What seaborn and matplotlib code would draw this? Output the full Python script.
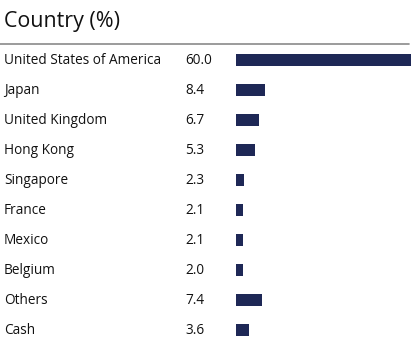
import matplotlib
matplotlib.use("Agg")
import matplotlib.pyplot as plt
import matplotlib.transforms as mtransforms
import seaborn as sns
import pandas as pd

countries = ["United States of America", "Japan", "United Kingdom", "Hong Kong",
             "Singapore", "France", "Mexico", "Belgium", "Others", "Cash"]
weights = [60.0, 8.4, 6.7, 5.3, 2.3, 2.1, 2.1, 2.0, 7.4, 3.6]
value_labels = ["60.0", "8.4", "6.7", "5.3", "2.3", "2.1", "2.1", "2.0", "7.4", "3.6"]
title = "Country (%)"

df = pd.DataFrame({"country": countries, "weight": weights})

sns.set_theme(style="white")
plt.rcParams["font.family"] = ["Open Sans", "DejaVu Sans"]

W, H = 411, 340
fig = plt.figure(figsize=(W / 100, H / 100), dpi=100)
fig.patch.set_facecolor("white")

# bar panel: rows are 30 px apart, first row centred at y=60 px
ax = fig.add_axes([236 / W, (H - 345) / H, 175 / W, 300 / H])
sns.barplot(data=df, y="country", x="weight", orient="h", ax=ax,
            color="#1e2856", saturation=1, width=0.43, edgecolor="none")
ax.set_xlim(0, 50)
ax.set_ylim(len(countries) - 0.5, -0.5)
ax.axis("off")

tr = mtransforms.blended_transform_factory(fig.transFigure, ax.transData)
for i, (name, lab) in enumerate(zip(countries, value_labels)):
    ax.text(4 / W, i + 0.03, name, transform=tr, ha="left", va="center",
            fontsize=9.8, color="#111111", clip_on=False)
    ax.text(185 / W, i + 0.03, lab, transform=tr, ha="left", va="center",
            fontsize=9.8, color="#111111", clip_on=False)

fig.text(4 / W, 1 - 21 / H, title, ha="left", va="center",
         fontsize=15.4, color="#111111")
fig.add_artist(plt.Line2D([0, 409 / W], [1 - 44 / H, 1 - 44 / H],
                          transform=fig.transFigure, color="#8a8a8a", lw=1.2))

fig.savefig("out.png", dpi=100)
